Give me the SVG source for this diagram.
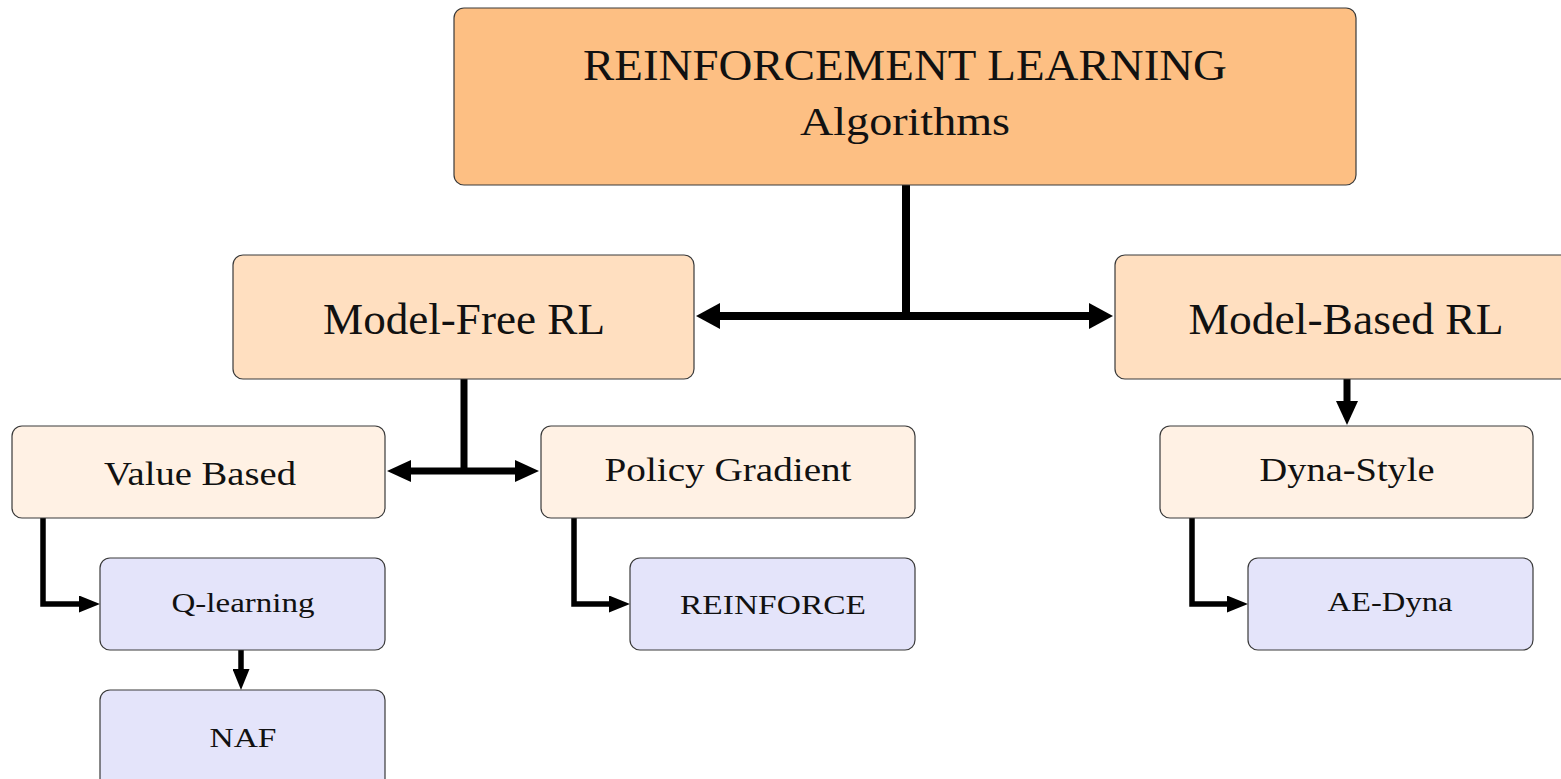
<svg xmlns="http://www.w3.org/2000/svg" width="1561" height="779" viewBox="0 0 1561 779">
<style>
  .box { stroke: #3a3a3a; stroke-width: 1.2; }
  .l0 { fill: #FDBF83; }
  .l1 { fill: #FFDFC0; }
  .l2 { fill: #FFF1E4; }
  .l3 { fill: #E4E4FA; }
  text { font-family: "Liberation Serif", "DejaVu Serif", serif; fill: #111; text-anchor: middle; }
  .conn { fill: none; stroke: #000; stroke-linecap: butt; }
  .w8 { stroke-width: 8; }
  .w7 { stroke-width: 7; }
  .w5 { stroke-width: 5.5; }
</style>
<defs>
  <marker id="aBig" markerUnits="userSpaceOnUse" viewBox="0 0 24 26" refX="0" refY="13" markerWidth="24" markerHeight="26" orient="auto">
    <path d="M0,0 L24,13 L0,26 z" fill="#000"/>
  </marker>
  <marker id="aMid" markerUnits="userSpaceOnUse" viewBox="0 0 24 22" refX="0" refY="11" markerWidth="24" markerHeight="22" orient="auto">
    <path d="M0,0 L24,11 L0,22 z" fill="#000"/>
  </marker>
  <marker id="aSmall" markerUnits="userSpaceOnUse" viewBox="0 0 21 17" refX="0" refY="8.5" markerWidth="21" markerHeight="17" orient="auto">
    <path d="M0,0 L21,8.5 L0,17 z" fill="#000"/>
  </marker>
</defs>

<g id="connectors">
  <path class="conn w8" d="M906,185 V320"/>
  <path class="conn w8" d="M906,316 H720" marker-end="url(#aBig)"/>
  <path class="conn w8" d="M906,316 H1089" marker-end="url(#aBig)"/>
  <path class="conn w7" d="M464,379 V474"/>
  <path class="conn w7" d="M464,471 H411" marker-end="url(#aMid)"/>
  <path class="conn w7" d="M464,471 H515" marker-end="url(#aMid)"/>
  <path class="conn w7" d="M1347,379 V401" marker-end="url(#aMid)"/>
  <path class="conn w5" d="M43,518 V604 H79" marker-end="url(#aSmall)"/>
  <path class="conn w5" d="M574,518 V604 H609" marker-end="url(#aSmall)"/>
  <path class="conn w5" d="M1192,518 V604 H1227" marker-end="url(#aSmall)"/>
  <path class="conn w5" d="M241,650 V669" marker-end="url(#aSmall)"/>
</g>

<g id="rl">
  <rect class="box l0" x="454" y="8" width="902" height="177" rx="10"/>
  <text x="905" y="80" font-size="45" textLength="644" lengthAdjust="spacingAndGlyphs">REINFORCEMENT LEARNING</text>
  <text x="905" y="135" font-size="40" textLength="210" lengthAdjust="spacingAndGlyphs">Algorithms</text>
</g>
<g id="model-free">
  <rect class="box l1" x="233" y="255" width="461" height="124" rx="10"/>
  <text x="464" y="334" font-size="45" textLength="282" lengthAdjust="spacingAndGlyphs">Model-Free RL</text>
</g>
<g id="model-based">
  <rect class="box l1" x="1115" y="255" width="470" height="124" rx="10"/>
  <text x="1346" y="334" font-size="45" textLength="315" lengthAdjust="spacingAndGlyphs">Model-Based RL</text>
</g>
<g id="value-based">
  <rect class="box l2" x="12" y="426" width="373" height="92" rx="10"/>
  <text x="200" y="485" font-size="33" textLength="192" lengthAdjust="spacingAndGlyphs">Value Based</text>
</g>
<g id="policy-gradient">
  <rect class="box l2" x="541" y="426" width="374" height="92" rx="10"/>
  <text x="728" y="481" font-size="33" textLength="247" lengthAdjust="spacingAndGlyphs">Policy Gradient</text>
</g>
<g id="dyna-style">
  <rect class="box l2" x="1160" y="426" width="373" height="92" rx="10"/>
  <text x="1347" y="481" font-size="33" textLength="175" lengthAdjust="spacingAndGlyphs">Dyna-Style</text>
</g>
<g id="q-learning">
  <rect class="box l3" x="100" y="558" width="285" height="92" rx="10"/>
  <text x="243" y="612" font-size="27" textLength="143" lengthAdjust="spacingAndGlyphs">Q-learning</text>
</g>
<g id="naf">
  <rect class="box l3" x="100" y="690" width="285" height="100" rx="10"/>
  <text x="243" y="747" font-size="27" textLength="67" lengthAdjust="spacingAndGlyphs">NAF</text>
</g>
<g id="reinforce">
  <rect class="box l3" x="630" y="558" width="285" height="92" rx="10"/>
  <text x="773" y="614" font-size="27" textLength="186" lengthAdjust="spacingAndGlyphs">REINFORCE</text>
</g>
<g id="ae-dyna">
  <rect class="box l3" x="1248" y="558" width="285" height="92" rx="10"/>
  <text x="1390" y="611" font-size="27" textLength="125" lengthAdjust="spacingAndGlyphs">AE-Dyna</text>
</g>
</svg>
